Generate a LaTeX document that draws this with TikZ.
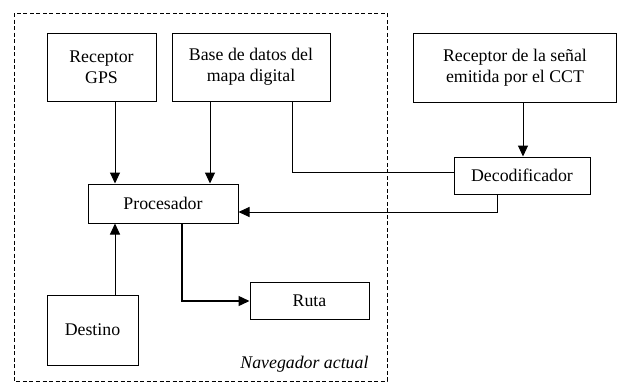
\documentclass[tikz,border=0pt]{standalone}
\usepackage{fontspec}
\setmainfont{Liberation Serif}
\usetikzlibrary{arrows.meta}
\begin{document}
\begin{tikzpicture}[x=1pt,y=-1pt,
  box/.style={draw,line width=1pt,inner sep=0pt,align=center,
    font=\fontsize{17.8}{21}\selectfont},
  link/.style={line width=1pt},
  arr/.style={link,-{Triangle[length=11pt,width=10pt]}}]
  \useasboundingbox (0,0) rectangle (618,383);
  % outer frame of the navigator
  \draw[dash pattern=on 4pt off 2.5pt,line width=0.7pt] (14,13) rectangle (387,381);
  \node[box,minimum width=109pt,minimum height=68pt] (gps) at (101.5,67) {Receptor\\GPS};
  \node[box,minimum width=158pt,minimum height=68pt] (base) at (251,67) {Base de datos del\\mapa digital};
  \node[box,minimum width=203pt,minimum height=69pt] (cct) at (515,67.5) {Receptor de la señal\\emitida por el CCT};
  \node[box,minimum width=136pt,minimum height=37pt] (dec) at (522,175.5) {Decodificador};
  \node[box,minimum width=150pt,minimum height=39pt] (proc) at (163,203.5) {Procesador};
  \node[box,minimum width=119pt,minimum height=37pt] (ruta) at (309.5,300.5) {Ruta};
  \node[box,minimum width=91pt,minimum height=70pt] (dest) at (92.5,330) {Destino};
  \node[anchor=east,font=\fontsize{17.8}{21}\selectfont\itshape] (nav) at (372,364) {Navegador actual};
  % connectors
  \draw[arr] (gps.south -| 115,0) -- (proc.north -| 115,0);
  \draw[arr] (base.south -| 210,0) -- (proc.north -| 210,0);
  \draw[link] (base.south -| 292,0) |- (dec.west |- 0,172);
  \draw[arr] (cct.south -| 523,0) -- (dec.north -| 523,0);
  \draw[arr] (dec.south -| 497,0) |- (proc.east |- 0,212);
  \draw[arr] (dest.north -| 115,0) -- (proc.south -| 115,0);
  \draw[arr,line width=1.4pt] (proc.south -| 182,0) |- (ruta.west |- 0,301);
\end{tikzpicture}
\end{document}
